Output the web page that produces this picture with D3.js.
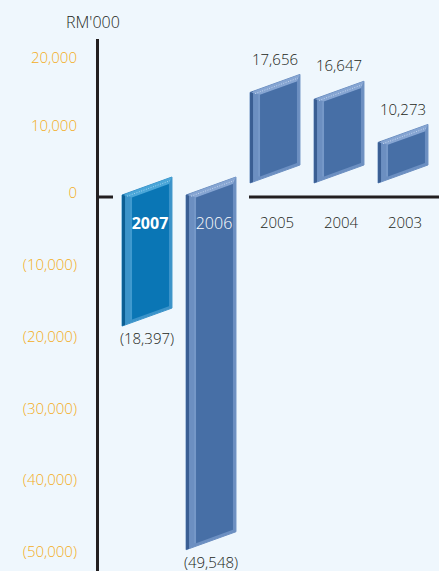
<!DOCTYPE html>
<html>
<head>
<meta charset="utf-8">
<script src="https://cdn.jsdelivr.net/npm/d3@7"></script>
<style>
  html, body { margin: 0; padding: 0; background: #eff7fd; }
  svg { display: block; font-family: "Open Sans", "DejaVu Sans", sans-serif; font-weight: 300; }
</style>
</head>
<body>
<svg id="chart" width="439" height="571"></svg>
<script>
// data
var years       = ["2007", "2006", "2005", "2004", "2003"];
var values      = [-18397, -49548, 17656, 16647, 10273];
var valueLabels = ["(18,397)", "(49,548)", "17,656", "16,647", "10,273"];
var tickValues  = [20000, 10000, 0, -10000, -20000, -30000, -40000, -50000];
var tickLabels  = ["20,000", "10,000", "0", "(10,000)", "(20,000)", "(30,000)", "(40,000)", "(50,000)"];
var highlight   = "2007";

var W = 439, H = 571;
var svg = d3.select("#chart");

// the original axis is not quite linear: positive side is a bit tighter
var y = d3.scaleLinear().domain([-50000, 0, 20000]).range([556, 197, 61.5]);
var x = d3.scaleBand().domain(years).range([115, 435]).paddingInner(0.22).paddingOuter(0.11);

var SKEW = 18;     // right edge sits higher than the left edge
var LIFT = 14;     // positive bars float above the baseline

var pal = {
  hi: { face: "#0a76b5", side: "#3b93c9", dark: "#0b5e93", top: "#4aa6d8", dot: "#9fd3f0" },
  lo: { face: "#476fa6", side: "#6c8fc1", dark: "#3a5e93", top: "#86a5d2", dot: "#c3d5ee" }
};

// y at x on a skewed edge whose left end is at yLeft
function edge(x0, w, yLeft, xx) { return yLeft - SKEW * (xx - x0) / w; }

function drawBar(g, x0, w, yTL, yBL, c) {
  var x1 = x0 + w;
  var pts = function (arr) { return arr.map(function (p) { return p.join(","); }).join(" "); };
  var L = 10, T = 6, R = 3, B = 3;
  // outer body (side bevel)
  g.append("polygon")
    .attr("points", pts([[x0, yTL], [x1, edge(x0, w, yTL, x1)], [x1, edge(x0, w, yBL, x1)], [x0, yBL]]))
    .attr("fill", c.side).attr("stroke", c.side).attr("stroke-width", 1).attr("stroke-linejoin", "round");
  // dark left strip
  g.append("polygon")
    .attr("points", pts([[x0, yTL], [x0 + 3, edge(x0, w, yTL, x0 + 3)], [x0 + 3, edge(x0, w, yBL, x0 + 3)], [x0, yBL]]))
    .attr("fill", c.dark);
  // top bevel
  g.append("polygon")
    .attr("points", pts([[x0 + 1, yTL], [x1, edge(x0, w, yTL, x1)], [x1 - R, edge(x0, w, yTL, x1 - R) + T], [x0 + L, edge(x0, w, yTL, x0 + L) + T]]))
    .attr("fill", c.top);
  // dotted ridge on the top bevel
  g.append("line")
    .attr("x1", x0 + 5).attr("y1", edge(x0, w, yTL, x0 + 5) + 3)
    .attr("x2", x1 - 2).attr("y2", edge(x0, w, yTL, x1 - 2) + 3)
    .attr("stroke", c.dot).attr("stroke-width", 1).attr("stroke-dasharray", "1,1.5");
  // front face
  g.append("polygon")
    .attr("points", pts([
      [x0 + L, edge(x0, w, yTL, x0 + L) + T], [x1 - R, edge(x0, w, yTL, x1 - R) + T],
      [x1 - R, edge(x0, w, yBL, x1 - R) - B], [x0 + L, edge(x0, w, yBL, x0 + L) - B]]))
    .attr("fill", c.face);
  // thin light line between side bevel and face
  g.append("line")
    .attr("x1", x0 + L - 1).attr("y1", edge(x0, w, yTL, x0 + L) + T)
    .attr("x2", x0 + L - 1).attr("y2", edge(x0, w, yBL, x0 + L) - B)
    .attr("stroke", c.top).attr("stroke-width", 1).attr("opacity", 0.8);
}

// axis
svg.append("line").attr("x1", 97.5).attr("x2", 97.5).attr("y1", 39).attr("y2", H)
  .attr("stroke", "#231f20").attr("stroke-width", 3);
svg.append("line").attr("x1", 98).attr("x2", 113).attr("y1", y(0)).attr("y2", y(0))
  .attr("stroke", "#231f20").attr("stroke-width", 3);
svg.append("line").attr("x1", 249).attr("x2", W).attr("y1", y(0)).attr("y2", y(0))
  .attr("stroke", "#231f20").attr("stroke-width", 3);

svg.append("text").attr("x", 66).attr("y", 28).attr("fill", "#231f20")
  .attr("font-size", 16).text("RM'000");

svg.selectAll("text.tick").data(tickValues).enter().append("text")
  .attr("class", "tick")
  .attr("x", 77).attr("y", function (d) { return y(d) - 4; })
  .attr("dy", "0.35em").attr("text-anchor", "end")
  .attr("fill", "#f3ad1c").attr("font-size", 15)
  .text(function (d, i) { return tickLabels[i]; });

// bars
years.forEach(function (yr, i) {
  var v = values[i];
  var x0 = x(yr), w = x.bandwidth();
  var c = yr === highlight ? pal.hi : pal.lo;
  var g = svg.append("g");
  var yTL, yBL;
  if (v >= 0) {
    yBL = y(0) - LIFT;
    yTL = y(v) - 3 + SKEW;
  } else {
    yTL = y(0) - 2;
    yBL = y(v) - 3;
  }
  drawBar(g, x0, w, yTL, yBL, c);

  if (v >= 0) {
    svg.append("text").attr("x", x0 + w / 2).attr("y", yTL - SKEW - 15).attr("dy", "0.35em")
      .attr("text-anchor", "middle").attr("fill", "#231f20").attr("font-size", 15)
      .text(valueLabels[i]);
    svg.append("text").attr("x", x0 + w / 2 + 2).attr("y", y(0) + 26).attr("dy", "0.35em")
      .attr("text-anchor", "middle").attr("fill", "#231f20").attr("font-size", 15)
      .text(yr);
  } else {
    svg.append("text").attr("x", x0 + w / 2).attr("y", yBL + 13).attr("dy", "0.35em")
      .attr("text-anchor", "middle").attr("fill", "#231f20").attr("font-size", 15)
      .text(valueLabels[i]);
    svg.append("text").attr("x", x0 + w / 2 + 3).attr("y", y(0) + 26).attr("dy", "0.35em")
      .attr("text-anchor", "middle").attr("fill", "#ffffff").attr("font-size", 16)
      .attr("font-weight", yr === highlight ? "bold" : "300")
      .text(yr);
  }
});
</script>
</body>
</html>
